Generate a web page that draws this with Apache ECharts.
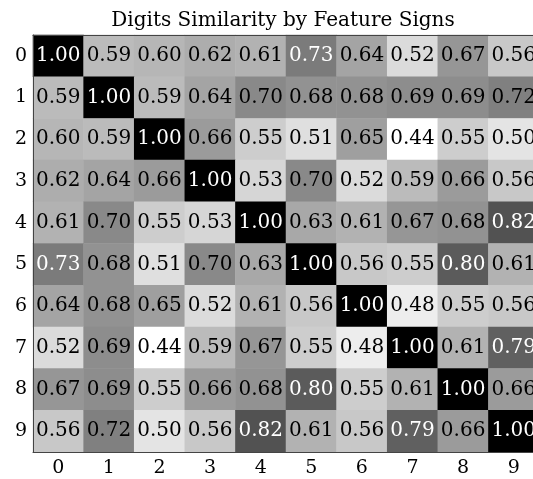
<!DOCTYPE html>
<html>
<head>
<meta charset="utf-8">
<script src="https://cdn.jsdelivr.net/npm/echarts@6/dist/echarts.min.js"></script>
<style>
html,body{margin:0;padding:0;background:#fff;}
#chart{width:533px;height:479px;}
</style>
</head>
<body>
<div id="chart"></div>
<script>
var digits = ['0','1','2','3','4','5','6','7','8','9'];
var row0 = [1.00,0.59,0.60,0.62,0.61,0.73,0.64,0.52,0.67,0.56];
var row1 = [0.59,1.00,0.59,0.64,0.70,0.68,0.68,0.69,0.69,0.72];
var row2 = [0.60,0.59,1.00,0.66,0.55,0.51,0.65,0.44,0.55,0.50];
var row3 = [0.62,0.64,0.66,1.00,0.53,0.70,0.52,0.59,0.66,0.56];
var row4 = [0.61,0.70,0.55,0.53,1.00,0.63,0.61,0.67,0.68,0.82];
var row5 = [0.73,0.68,0.51,0.70,0.63,1.00,0.56,0.55,0.80,0.61];
var row6 = [0.64,0.68,0.65,0.52,0.61,0.56,1.00,0.48,0.55,0.56];
var row7 = [0.52,0.69,0.44,0.59,0.67,0.55,0.48,1.00,0.61,0.79];
var row8 = [0.67,0.69,0.55,0.66,0.68,0.80,0.55,0.61,1.00,0.66];
var row9 = [0.56,0.72,0.50,0.56,0.82,0.61,0.56,0.79,0.66,1.00];
var rows = [row0,row1,row2,row3,row4,row5,row6,row7,row8,row9];
var vmin = 0.44, vmax = 1.00;
var titleText = 'Digits Similarity by Feature Signs';

var font = 'DejaVu Serif';
var data = [];
rows.forEach(function(r, i){
  r.forEach(function(v, j){
    data.push({
      value: [j, i, v],
      label: { color: v > (vmin + vmax) / 2 ? '#ffffff' : '#000000' }
    });
  });
});

var chart = echarts.init(document.getElementById('chart'), null, {renderer:'canvas'});
chart.setOption({
  animation: false,
  backgroundColor: '#ffffff',
  title: {
    text: titleText,
    left: 278,
    textAlign: 'center',
    top: 6,
    textStyle: { fontFamily: font, fontSize: 20, fontWeight: 'normal', color: '#000' }
  },
  grid: { left: 33, top: 35, width: 506, height: 417, outerBoundsMode: 'none', containLabel: false },
  visualMap: {
    show: false, type: 'continuous', min: vmin, max: vmax, dimension: 2,
    inRange: { color: ['#ffffff', '#000000'] }
  },
  xAxis: [{
    type: 'category', data: digits, position: 'bottom',
    axisLine: { show: true, lineStyle: { color: '#444', width: 1 } },
    axisTick: { show: false },
    splitLine: { show: false },
    axisLabel: { fontFamily: font, fontSize: 19, color: '#000', margin: 7 },
    z: 10
  }, {
    type: 'category', data: digits, position: 'top',
    axisLine: { show: true, lineStyle: { color: '#444', width: 1 } },
    axisTick: { show: false }, axisLabel: { show: false }, z: 10
  }],
  yAxis: {
    type: 'category', data: digits, inverse: true,
    axisLine: { show: true, lineStyle: { color: '#444', width: 1 } },
    axisTick: { show: false },
    splitLine: { show: false },
    axisLabel: { fontFamily: font, fontSize: 19, color: '#000', margin: 6, padding: [8,0,0,0] },
    z: 10
  },
  series: [{
    type: 'heatmap',
    data: data,
    label: {
      show: true,
      fontFamily: font,
      fontSize: 20,
      formatter: function(p){ return p.value[2].toFixed(2); }
    },
    itemStyle: { borderWidth: 0 },
    emphasis: { disabled: true }
  }]
});
</script>
</body>
</html>
